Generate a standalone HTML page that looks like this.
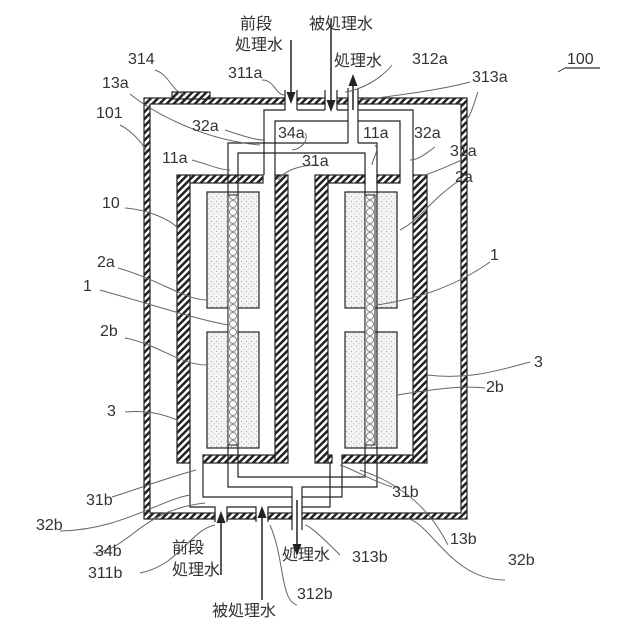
<!DOCTYPE html>
<html><head><meta charset="utf-8"><style>
html,body{margin:0;padding:0;background:#fff}
svg{display:block}
text{font-family:"Liberation Sans","Noto Sans CJK JP",sans-serif;font-size:16px;fill:#333}
</style></head><body>
<svg width="640" height="640" viewBox="0 0 640 640" xmlns="http://www.w3.org/2000/svg">
<defs>
<pattern id="h" width="5" height="5" patternUnits="userSpaceOnUse" patternTransform="rotate(45)">
<rect width="5" height="5" fill="#fff"/><rect width="2.5" height="5" fill="#222"/></pattern>
<pattern id="d" width="5" height="5" patternUnits="userSpaceOnUse">
<rect width="5" height="5" fill="#f4f4f4"/><circle cx="1.5" cy="1.5" r="0.6" fill="#aaa"/><circle cx="4" cy="3.8" r="0.6" fill="#bbb"/></pattern>
<pattern id="c" width="10" height="8" patternUnits="userSpaceOnUse" x="228" y="0">
<rect width="10" height="8" fill="#fff"/><circle cx="5" cy="4" r="3.5" fill="none" stroke="#888" stroke-width="1"/></pattern>
<pattern id="c2" width="10" height="8" patternUnits="userSpaceOnUse" x="365" y="0">
<rect width="10" height="8" fill="#fff"/><circle cx="5" cy="4" r="3.5" fill="none" stroke="#888" stroke-width="1"/></pattern>
<marker id="a" markerWidth="8" markerHeight="8" refX="4" refY="4" orient="auto"><path d="M0,1 L8,4 L0,7z" fill="#222"/></marker>
</defs>
<g stroke="#222" stroke-width="1.2">
<rect x="144" y="98" width="323" height="421" fill="url(#h)"/>
<rect x="150" y="104" width="311" height="409" fill="#fff"/>
<rect x="172" y="92" width="38" height="7" fill="url(#h)"/>
<rect x="177" y="175" width="13" height="288" fill="url(#h)"/>
<rect x="190" y="175" width="73" height="8" fill="url(#h)"/>
<rect x="275" y="175" width="13" height="288" fill="url(#h)"/>
<rect x="203" y="455" width="72" height="8" fill="url(#h)"/>
<rect x="315" y="175" width="13" height="288" fill="url(#h)"/>
<rect x="328" y="175" width="37" height="8" fill="url(#h)"/>
<rect x="377" y="175" width="23" height="8" fill="url(#h)"/>
<rect x="413" y="175" width="14" height="288" fill="url(#h)"/>
<rect x="328" y="455" width="4" height="8" fill="url(#h)"/>
<rect x="342" y="455" width="71" height="8" fill="url(#h)"/>
<rect x="207" y="192" width="52" height="116" fill="url(#d)"/>
<rect x="207" y="332" width="52" height="116" fill="url(#d)"/>
<rect x="345" y="192" width="52" height="116" fill="url(#d)"/>
<rect x="345" y="332" width="52" height="116" fill="url(#d)"/>
</g>
<!-- pipe gaps through housing -->
<g fill="#fff">
<rect x="285.6" y="97" width="10.8" height="8"/>
<rect x="325.6" y="97" width="10.8" height="8"/>
<rect x="348.6" y="97" width="8.8" height="8"/>
<rect x="215.6" y="512" width="10.8" height="8"/>
<rect x="256.6" y="512" width="10.8" height="8"/>
<rect x="292.6" y="512" width="8.8" height="8"/>
</g>
<g stroke="#222" stroke-width="1.2" fill="none">
<path d="M264,175 V110 H285 V90 M297,90 V110"/>
<path d="M297,110 H325 M325,90 V110 M337,90 V110 M337,110 H348"/>
<path d="M358,110 H413 V175"/>
<path d="M275,175 V121 H348 M358,121 H400 V175"/>
<path d="M348,143 V88 M358,143 V88"/>
<path d="M228,448 V143 H348 M358,143 H377 V448"/>
<path d="M238,448 V153 H365 V448"/>
<path d="M228,448 V487 H292 V530 M302,530 V487 H377 V448"/>
<path d="M238,448 V477 H365 V448"/>
<path d="M203,463 V497 H292 M302,497 H342 V463"/>
<path d="M190,463 V507 H215 V522 M227,522 V507 H256 V522 M268,522 V507 H292 M302,507 H330 V463"/>
</g>
<rect x="228" y="195" width="10" height="250" fill="url(#c)" stroke="#222" stroke-width="1"/>
<rect x="365" y="195" width="10" height="250" fill="url(#c2)" stroke="#222" stroke-width="1"/>
<g stroke="#222" stroke-width="1.5">
<line x1="291" y1="40" x2="291" y2="98" marker-end="url(#a)"/>
<line x1="331" y1="20" x2="331" y2="106" marker-end="url(#a)"/>
<line x1="353" y1="110" x2="353" y2="80" marker-end="url(#a)"/>
<line x1="221" y1="575" x2="221" y2="517" marker-end="url(#a)"/>
<line x1="262" y1="600" x2="262" y2="512" marker-end="url(#a)"/>
<line x1="297" y1="500" x2="297" y2="550" marker-end="url(#a)"/>
</g>
<g stroke="#666" stroke-width="1" fill="none">
<path d="M155,70 C170,75 170,90 185,95"/>
<path d="M262,80 C275,80 275,95 285,95"/>
<path d="M392,65 C380,80 360,90 345,92"/>
<path d="M470,82 C440,90 400,95 362,100"/>
<path d="M130,94 C150,110 200,140 260,145"/>
<path d="M120,125 C130,130 140,140 146,150"/>
<path d="M225,130 C240,135 255,140 264,140"/>
<path d="M305,133 C310,140 300,150 292,150"/>
<path d="M375,145 C380,150 372,160 372,165"/>
<path d="M435,147 C430,150 420,160 410,160"/>
<path d="M462,160 C450,165 440,170 425,175"/>
<path d="M192,160 C210,165 220,170 230,170"/>
<path d="M318,165 C300,165 285,170 278,180"/>
<path d="M460,180 C430,200 420,220 400,230"/>
<path d="M125,208 C150,210 170,220 178,228"/>
<path d="M490,262 C450,290 410,300 377,305"/>
<path d="M118,268 C160,280 185,300 207,300"/>
<path d="M100,290 C170,310 200,320 228,325"/>
<path d="M125,338 C160,345 180,365 207,365"/>
<path d="M530,362 C500,370 470,380 427,375"/>
<path d="M485,388 C460,385 430,390 397,395"/>
<path d="M125,412 C150,410 165,415 177,420"/>
<path d="M392,487 C370,480 355,470 340,465"/>
<path d="M112,497 C135,490 160,480 196,470"/>
<path d="M60,531 C120,530 160,500 190,495"/>
<path d="M93,553 C130,550 140,510 205,503"/>
<path d="M140,573 C180,565 190,530 215,525"/>
<path d="M448,545 C440,530 420,490 360,470"/>
<path d="M340,555 C330,545 310,525 305,525"/>
<path d="M505,580 C450,580 430,520 405,518"/>
<path d="M297,605 C280,600 285,560 270,525"/>
<path d="M468,118 C472,112 475,100 478,92"/>
</g>
<g>
<text x="240" y="29">前段</text>
<text x="235" y="50">処理水</text>
<text x="309" y="29">被処理水</text>
<text x="334" y="66">処理水</text>
<text x="412" y="64">312a</text>
<text x="567" y="64">100</text>
<line x1="565" y1="68" x2="600" y2="68" stroke="#333" stroke-width="1.2"/>
<line x1="558" y1="72" x2="565" y2="68" stroke="#333"/>
<text x="128" y="64">314</text>
<text x="228" y="78">311a</text>
<text x="102" y="88">13a</text>
<text x="472" y="82">313a</text>
<text x="96" y="118">101</text>
<text x="192" y="131">32a</text>
<text x="278" y="138">34a</text>
<text x="363" y="138">11a</text>
<text x="414" y="138">32a</text>
<text x="450" y="156">31a</text>
<text x="162" y="163">11a</text>
<text x="302" y="166">31a</text>
<text x="455" y="182">2a</text>
<text x="102" y="208">10</text>
<text x="490" y="260">1</text>
<text x="97" y="267">2a</text>
<text x="83" y="291">1</text>
<text x="100" y="336">2b</text>
<text x="534" y="367">3</text>
<text x="486" y="392">2b</text>
<text x="107" y="416">3</text>
<text x="392" y="497">31b</text>
<text x="86" y="505">31b</text>
<text x="450" y="544">13b</text>
<text x="36" y="530">32b</text>
<text x="95" y="556">34b</text>
<text x="172" y="553">前段</text>
<text x="172" y="575">処理水</text>
<text x="88" y="578">311b</text>
<text x="282" y="560">処理水</text>
<text x="352" y="562">313b</text>
<text x="508" y="565">32b</text>
<text x="297" y="599">312b</text>
<text x="212" y="616">被処理水</text>
</g>
</svg>
</body></html>
